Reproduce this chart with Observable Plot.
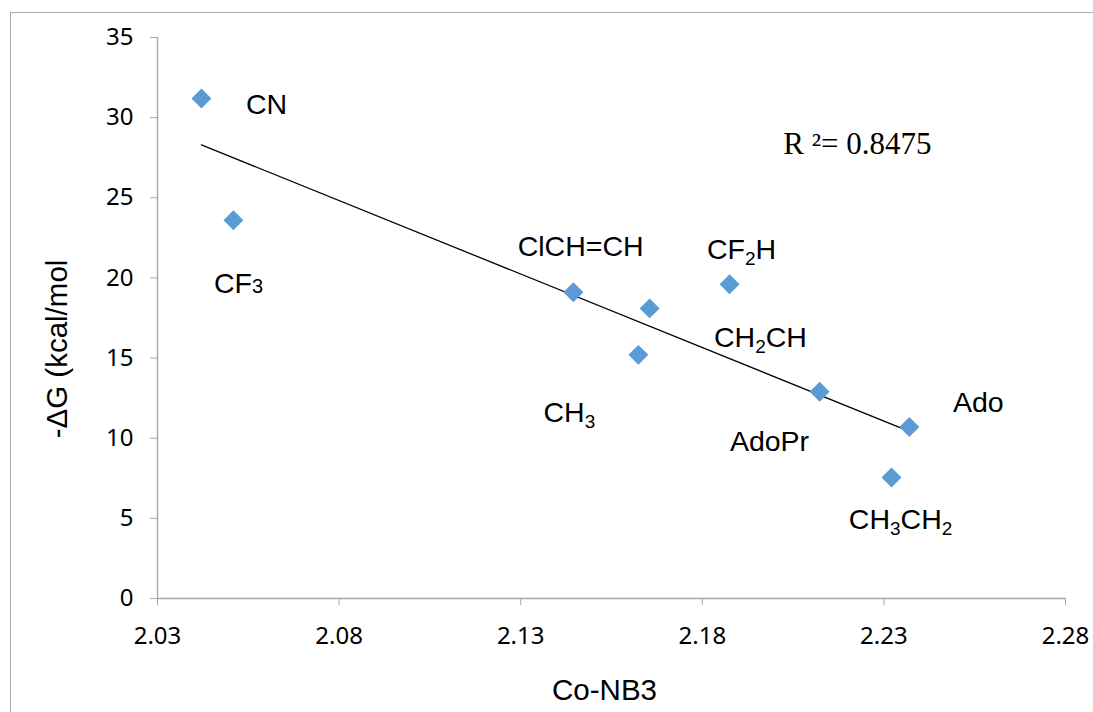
<!DOCTYPE html>
<html>
<head>
<meta charset="utf-8">
<script src="https://cdn.jsdelivr.net/npm/d3@7"></script>
<script src="https://cdn.jsdelivr.net/npm/@observablehq/plot@0.6"></script>
<style>
  html, body { margin: 0; padding: 0; background: #fff; overflow: hidden; }
  #wrap { position: relative; width: 1093px; height: 712px; }
  #border { position: absolute; left: 10px; top: 12px; width: 1200px; height: 800px;
            border-left: 1.5px solid #a9a9a9; border-top: 1.5px solid #a9a9a9; pointer-events: none; }
  #chart { position: absolute; left: 0; top: 0; }
</style>
</head>
<body>
<div id="wrap"><div id="border"></div><div id="chart"></div></div>
<script>
// Data
const coNB3  = [2.0421, 2.0509, 2.1445, 2.1655, 2.1624, 2.1875, 2.2123, 2.2370, 2.2321];
const deltaG = [31.2,   23.6,   19.1,   18.1,   15.2,   19.6,   12.9,   10.7,   7.55];

// Point labels (annotation positions in data units)
const labelNames = ["CN", "CF~3", "ClCH=CH", "CF_2H", "CH_2CH", "CH_3", "AdoPr", "Ado", "CH_3CH_2"];
const labelX     = [2.0600, 2.0523, 2.1465, 2.1908, 2.1960, 2.1434, 2.1985, 2.2560, 2.2346];
const labelY     = [30.8,   19.65,  21.96,  21.77,  16.28,  11.6,   9.79,   12.23,  4.93];

const xTicks = [2.03, 2.08, 2.13, 2.18, 2.23, 2.28];
const yTicks = [0, 5, 10, 15, 20, 25, 30, 35];
const r2Text = "R ²= 0.8475";
const r2Pos  = [2.2227, 28.38];
const xTitle = "Co-NB3";
const yTitle = "-ΔG (kcal/mol";

const points = coNB3.map((x, i) => ({x, y: deltaG[i]}));
const labels = labelNames.map((t, i) => ({t, x: labelX[i], y: labelY[i]}));

const axisGrey = "#a6a6a6";
const arial = "'Liberation Sans', Arial, sans-serif";

const chart = Plot.plot({
  width: 1093,
  height: 712,
  marginLeft: 157,
  marginRight: 28,
  marginTop: 37,
  marginBottom: 114,
  style: { background: "transparent", overflow: "visible" },
  x: { domain: [2.03, 2.28], ticks: xTicks },
  y: { domain: [0, 35], ticks: yTicks },
  marks: [
    Plot.ruleX([2.03], { stroke: axisGrey, strokeWidth: 1.3 }),
    Plot.ruleY([0], { stroke: axisGrey, strokeWidth: 1.3 }),
    Plot.axisY({ ticks: yTicks, tickSize: 7, tickPadding: 17, stroke: axisGrey, fill: "#000",
                 fontSize: 24, fontFamily: "'Noto Sans', sans-serif", label: null, tickFormat: d => String(d) }),
    Plot.axisX({ ticks: xTicks, tickSize: 7, tickPadding: 21, stroke: axisGrey, fill: "#000",
                 fontSize: 24, fontFamily: "'Noto Sans', sans-serif", label: null, tickFormat: d3.format(".2f") }),
    Plot.linearRegressionY(points, { x: "x", y: "y", stroke: "#000", strokeWidth: 1.3, ci: 0 }),
    Plot.dot(points, { x: "x", y: "y", symbol: "diamond2", r: 9, fill: "#5b9bd5", stroke: "none" }),
    Plot.text(labels, { x: "x", y: "y", text: "t", fontSize: 28.5, fontFamily: arial, fill: "#000",
                        textAnchor: "middle", lineAnchor: "middle" }),
    Plot.text([r2Text], { x: () => r2Pos[0], y: () => r2Pos[1], fontSize: 31,
                          fontFamily: "'Liberation Serif', 'Times New Roman', serif", fill: "#000",
                          textAnchor: "middle", lineAnchor: "middle" }),
    Plot.text([xTitle], { frameAnchor: "bottom", dx: -7, dy: 92, fontSize: 29.5, fontFamily: arial, fill: "#000",
                          textAnchor: "middle", lineAnchor: "middle" }),
    Plot.text([yTitle], { frameAnchor: "left", dx: -100, dy: 31, rotate: -90, fontSize: 29.5, fontFamily: arial,
                          fill: "#000", textAnchor: "middle", lineAnchor: "middle" })
  ]
});

// Subscript handling: "_d" = lowered small digit, "~d" = small digit on baseline
d3.select(chart).selectAll("text").each(function () {
  const el = this;
  if (el.querySelector("tspan")) return;
  const s = el.textContent;
  if (!/[_~]/.test(s)) return;
  el.textContent = "";
  const parts = s.split(/([_~]\d)/).filter(p => p !== "");
  let shifted = 0;
  for (const p of parts) {
    const ts = document.createElementNS("http://www.w3.org/2000/svg", "tspan");
    if (p[0] === "_" || p[0] === "~") {
      ts.textContent = p.slice(1);
      ts.setAttribute("font-size", p[0] === "_" ? "19" : "20");
      const shift = p[0] === "_" ? 6 : 0;
      ts.setAttribute("dy", String(shift - shifted));
      shifted = shift;
    } else {
      ts.textContent = p;
      if (shifted) { ts.setAttribute("dy", String(-shifted)); shifted = 0; }
    }
    el.appendChild(ts);
  }
});

document.getElementById("chart").appendChild(chart);
</script>
</body>
</html>
